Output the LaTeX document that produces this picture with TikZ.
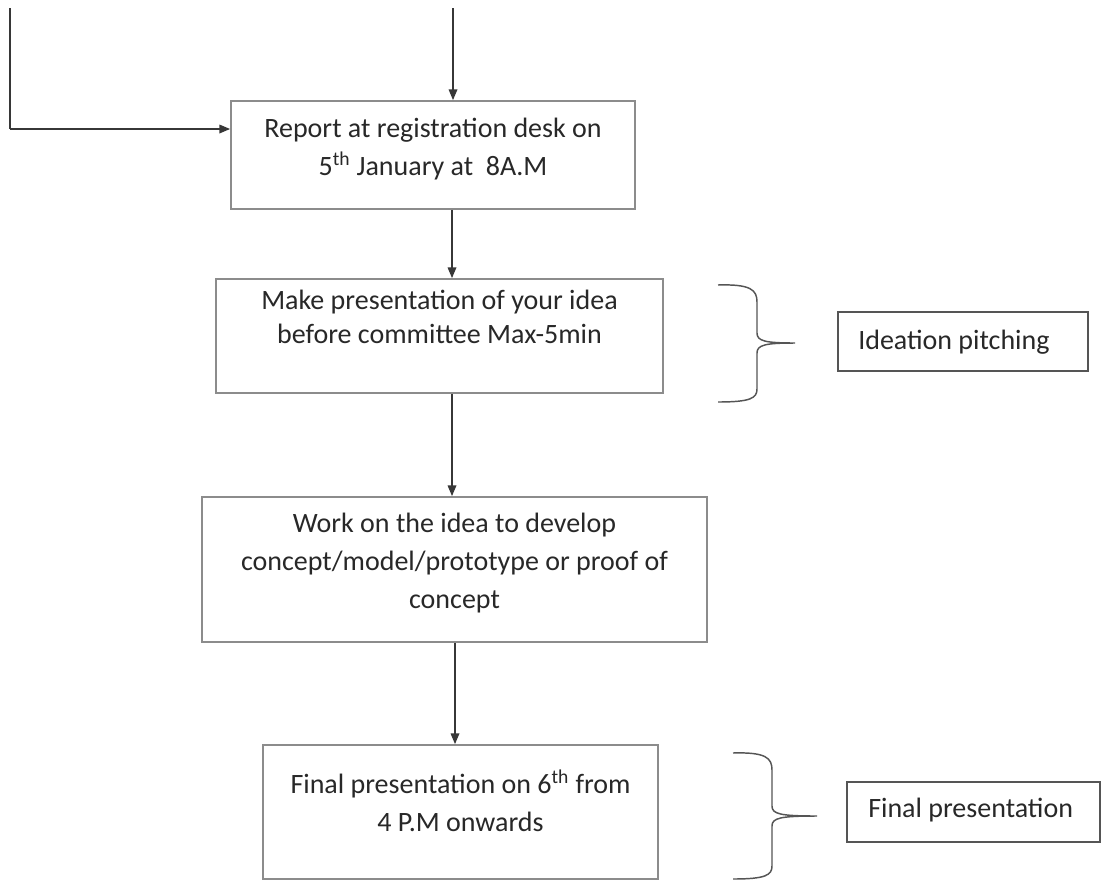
\documentclass[tikz,border=0pt]{standalone}
\usepackage{fontspec}
\setmainfont{Carlito}
\usetikzlibrary{arrows.meta}
\definecolor{boxgray}{RGB}{140,140,140}
\definecolor{sidegray}{RGB}{85,85,85}
\definecolor{linegray}{RGB}{55,55,55}
\definecolor{textgray}{RGB}{40,40,40}
\begin{document}
\begin{tikzpicture}[x=0.75pt,y=-0.75pt,
  box/.style={draw=boxgray, line width=1.4pt, inner sep=0pt, fill=white},
  sidebox/.style={draw=sidegray, line width=1.1pt, inner sep=0pt},
  txt/.style={font=\fontsize{21}{28.5}\selectfont, text=textgray, align=center, inner sep=0pt},
  tighttxt/.style={txt, font=\fontsize{21}{25}\selectfont},
  conn/.style={draw=linegray, line width=0.9pt, -{Triangle[length=8pt,width=6.5pt]}},
  plainline/.style={draw=linegray, line width=0.9pt},
  bracecurve/.style={draw=sidegray, line width=1.1pt}]
\useasboundingbox (0,0) rectangle (1114,893);
\fill[white] (0,0) rectangle (1114,893);

% main boxes
\node[box, minimum width=303pt, minimum height=81pt] (b1) at (433,155) {};
\node[txt] (t1) at (433,149) {Report at registration desk on\\5\textsuperscript{th} January at~~8A.M};

\node[box, minimum width=335.25pt, minimum height=85.5pt] (b2) at (439.5,336) {};
\node[tighttxt] (t2) at (439.5,317) {Make presentation of your idea\\before committee Max-5min};

\node[box, minimum width=378.75pt, minimum height=108.75pt] (b3) at (454.5,569.5) {};
\node[txt] (t3) at (454.5,563) {Work on the idea to develop\\concept/model/prototype or proof of\\concept};

\node[box, minimum width=296.25pt, minimum height=100.5pt] (b4) at (460.5,812) {};
\node[txt] (t4) at (460.5,801) {Final presentation on 6\textsuperscript{th} from\\4 P.M onwards};

% side boxes
\node[sidebox, minimum width=187.5pt, minimum height=44.25pt] (s1) at (963,341.5) {};
\node[txt, anchor=west] (st1) at (858,342) {Ideation pitching};
\node[sidebox, minimum width=189.75pt, minimum height=45pt] (s2) at (973.5,812) {};
\node[txt, anchor=west] (st2) at (868,810) {Final presentation};

% connectors
\coordinate (topin) at (453,8);
\coordinate (leftin) at (10,8);
\coordinate (leftcorner) at (10,129);
\draw[conn] (topin) -- (topin |- b1.north);
\draw[plainline] (leftin) -- (leftcorner);
\draw[conn] (leftcorner) -- (leftcorner -| b1.west);
\draw[conn] (452,0 |- b1.south) -- (452,0 |- b2.north);
\draw[conn] (452,0 |- b2.south) -- (452,0 |- b3.north);
\draw[conn] (455,0 |- b3.south) -- (455,0 |- b4.north);

% braces
\coordinate (tip1) at (795,343);
\draw[bracecurve] (718,285) .. controls (751,284) and (757,290) .. (757,302)
  -- (757,333) .. controls (757,341) and (765,343) .. (tip1)
  .. controls (765,343) and (757,345) .. (757,353)
  -- (757,389) .. controls (757,398) and (751,402) .. (718,402);
\coordinate (tip2) at (817,816);
\draw[bracecurve] (733,753) .. controls (766,752) and (772,758) .. (772,770)
  -- (772,806) .. controls (772,814) and (780,816) .. (tip2)
  .. controls (780,816) and (772,818) .. (772,826)
  -- (772,866) .. controls (772,875) and (766,879) .. (733,879);
\end{tikzpicture}
\end{document}
